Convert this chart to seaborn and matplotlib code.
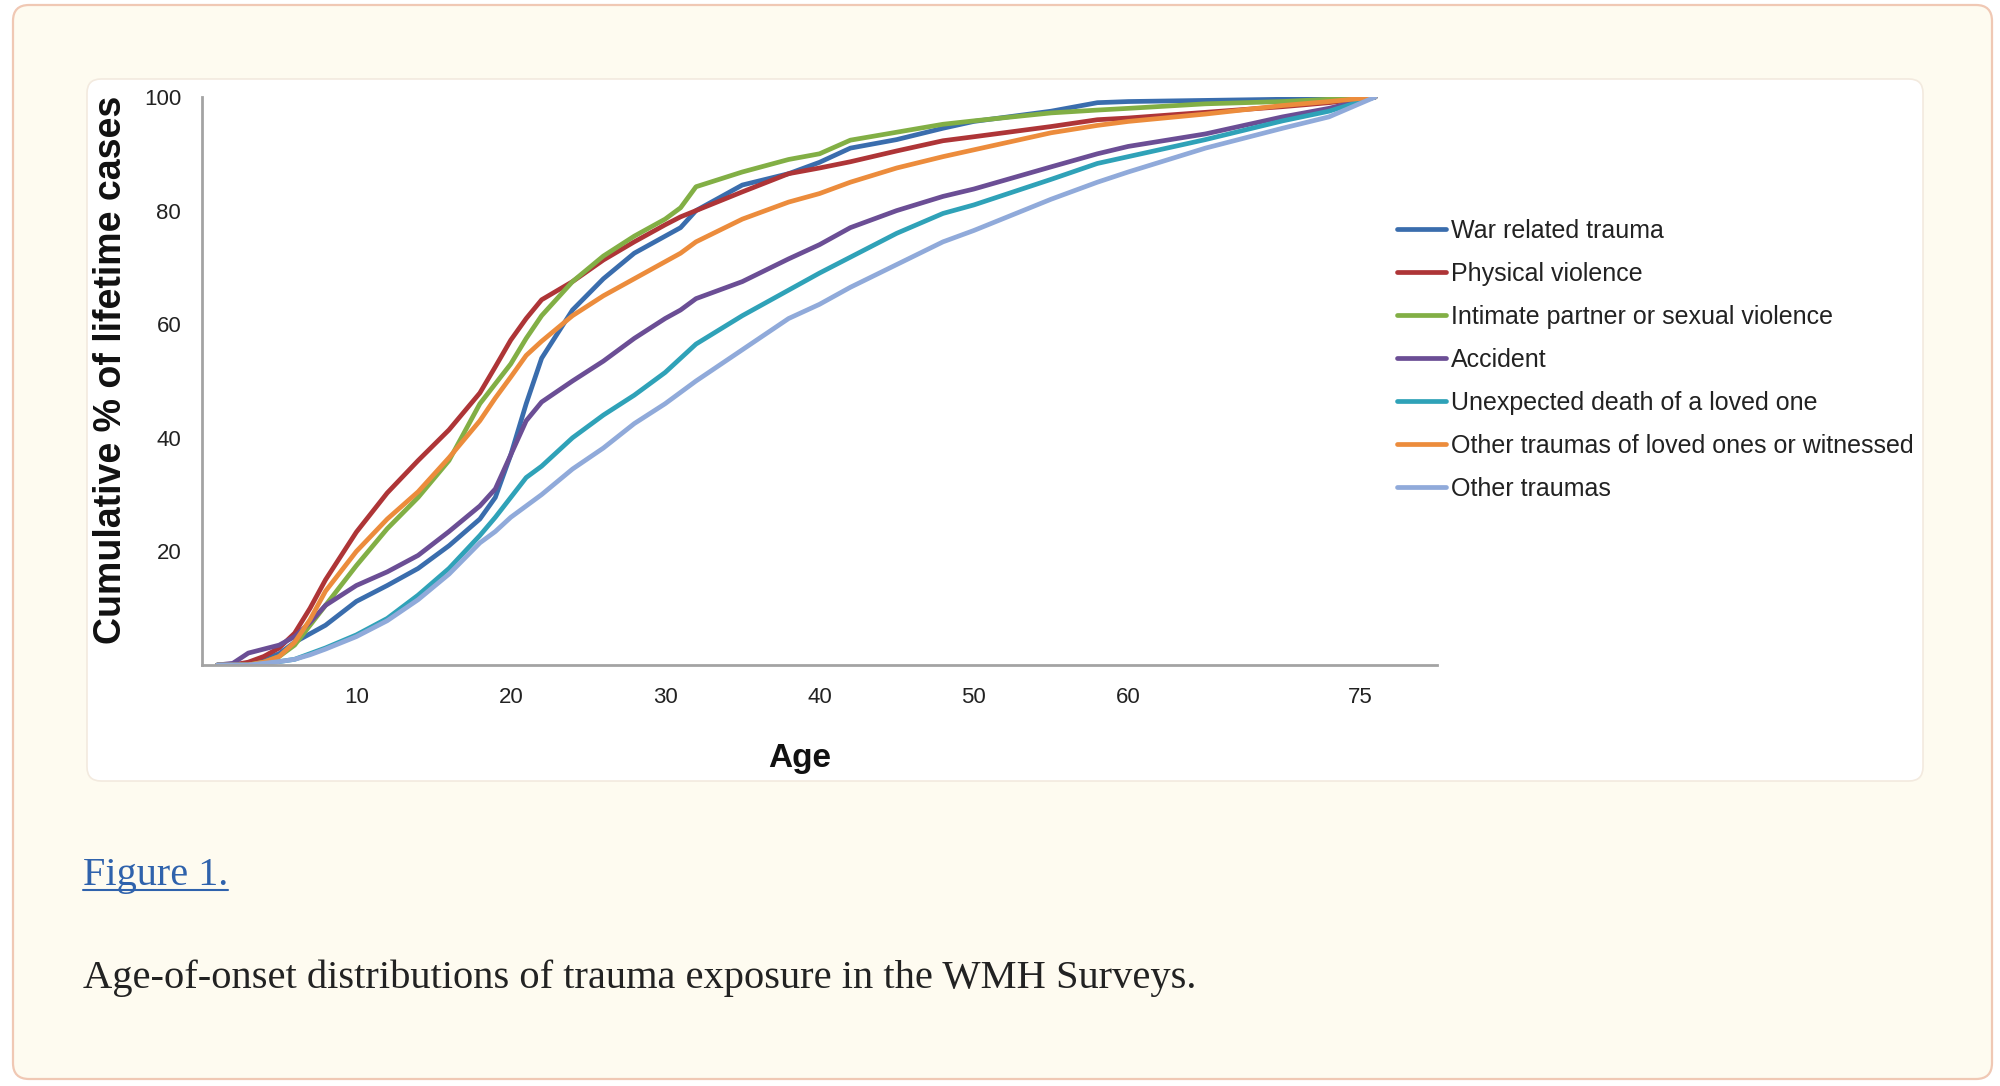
import matplotlib
matplotlib.use('Agg')
import matplotlib.pyplot as plt
import seaborn as sns
import pandas as pd
from matplotlib.patches import FancyBboxPatch
from matplotlib.transforms import IdentityTransform
from matplotlib.lines import Line2D

# ---------------- data ----------------
ages = [1, 2, 3, 4, 5, 6, 7, 8, 10, 12, 14, 16, 18, 19, 20, 21, 22, 24, 26, 28,
        30, 31, 32, 35, 38, 40, 42, 45, 48, 50, 55, 58, 60, 65, 70, 73, 76]

war_related = [0, 0, 0.3, 1, 2, 4, 5.5, 7, 11.2, 14, 17, 21, 25.7, 29.5, 37, 46, 54, 62.5, 68, 72.5,
               75.5, 77, 80, 84.5, 86.5, 88.5, 91, 92.5, 94.5, 95.7, 97.5, 99, 99.2, 99.4, 99.6, 99.8, 100]
physical_violence = [0, 0, 0.5, 1.5, 3, 5.6, 10, 15, 23.4, 30.3, 36, 41.4, 47.9, 52.5, 57.2, 61, 64.3, 67.5, 71.3, 74.5,
                     77.5, 78.9, 80, 83.3, 86.5, 87.5, 88.6, 90.5, 92.3, 93, 94.8, 96, 96.3, 97.3, 98.3, 99, 100]
intimate_partner = [0, 0, 0, 0.5, 1.5, 3.5, 7, 10.5, 17.5, 24, 29.5, 36, 46, 49.5, 53, 57.5, 61.5, 67.5, 72, 75.5,
                    78.5, 80.5, 84.2, 86.8, 89, 90, 92.4, 93.8, 95.2, 95.8, 97.2, 97.7, 98, 98.8, 99.2, 99.6, 100]
accident = [0, 0.3, 2.1, 2.8, 3.5, 5, 7.5, 10.5, 14, 16.4, 19.3, 23.5, 28, 31, 37, 43, 46.3, 50, 53.5, 57.5,
            61, 62.5, 64.5, 67.5, 71.5, 74, 77, 80, 82.5, 83.8, 87.7, 90, 91.3, 93.5, 96.5, 98, 100]
unexpected_death = [0, 0, 0, 0.3, 0.6, 1, 2, 3, 5.3, 8.2, 12.3, 17, 22.8, 26, 29.5, 33, 35, 40, 44, 47.5,
                    51.5, 54, 56.5, 61.5, 66, 69, 71.8, 76, 79.5, 81, 85.5, 88.3, 89.5, 92.5, 95.8, 97.5, 100]
loved_ones_witnessed = [0, 0, 0, 0.5, 1.5, 4, 8, 13, 20, 25.7, 30.5, 36.5, 43, 47, 50.7, 54.5, 57, 61.5, 65, 68,
                        71, 72.5, 74.5, 78.5, 81.5, 83, 85, 87.5, 89.5, 90.7, 93.7, 95, 95.7, 97, 98.5, 99.2, 100]
other_traumas = [0, 0, 0, 0.3, 0.6, 1, 1.8, 2.8, 5, 7.8, 11.5, 16, 21.5, 23.5, 26, 28, 30, 34.5, 38.2, 42.5,
                 46, 48, 50, 55.5, 61, 63.5, 66.5, 70.5, 74.5, 76.5, 82, 85, 86.8, 91, 94.5, 96.5, 100]

series_names = ["War related trauma", "Physical violence", "Intimate partner or sexual violence",
                "Accident", "Unexpected death of a loved one",
                "Other traumas of loved ones or witnessed", "Other traumas"]
series_values = [war_related, physical_violence, intimate_partner, accident,
                 unexpected_death, loved_ones_witnessed, other_traumas]
colors = ["#3A6DAD", "#AE3537", "#82AF45", "#6B4E95", "#2FA2B8", "#EC8C3C", "#90AADA"]

x_ticks = [10, 20, 30, 40, 50, 60, 75]
y_ticks = [20, 40, 60, 80, 100]

df = pd.DataFrame({
    "Age": [a for _ in series_names for a in ages],
    "Value": [v for vals in series_values for v in vals],
    "Series": [n for n in series_names for _ in ages],
})

# ---------------- figure ----------------
sns.set_theme(style="white")
plt.rcParams['font.family'] = ['Liberation Sans', 'DejaVu Sans']

W, H = 2000, 1086
fig = plt.figure(figsize=(W / 100, H / 100), dpi=100)
fig.patch.set_facecolor('white')

outer = FancyBboxPatch((13, H - 1079), 1979, 1074, boxstyle="round,pad=0,rounding_size=16",
                       fc="#FEFBF0", ec="#F0C8B4", lw=1.6, transform=IdentityTransform(), zorder=0)
fig.add_artist(outer)
panel = FancyBboxPatch((87, H - 781), 1836, 702, boxstyle="round,pad=0,rounding_size=14",
                       fc="white", ec="#F3EADF", lw=1.2, transform=IdentityTransform(), zorder=0.5)
fig.add_artist(panel)

ax = fig.add_axes([202 / W, (H - 665) / H, (1437 - 202) / W, (665 - 97) / H])
ax.set_facecolor('none')
ax.set_zorder(2)

sns.lineplot(data=df, x="Age", y="Value", hue="Series", hue_order=series_names,
             palette=dict(zip(series_names, colors)), linewidth=3.4, errorbar=None,
             ax=ax, legend=True)

ax.set_xlim(0, 80)
ax.set_ylim(0, 100)
ax.set_xticks(x_ticks)
ax.set_yticks(y_ticks)
ax.tick_params(axis='both', length=0, labelsize=16, labelcolor='#222222')
ax.tick_params(axis='y', pad=15)
ax.tick_params(axis='x', pad=16)
for s in ['top', 'right']:
    ax.spines[s].set_visible(False)
for s in ['left', 'bottom']:
    ax.spines[s].set_color('#A3A3A3')
    ax.spines[s].set_linewidth(2)

ax.set_ylabel("Cumulative % of lifetime cases", fontsize=27, fontweight='bold', color='#111111')
ax.yaxis.set_label_coords((111 - 202) / 1235, (665 - 370) / 568)
ax.yaxis.label.set_va('center')
ax.set_xlabel("Age", fontsize=24, fontweight='bold', color='#111111')
ax.xaxis.set_label_coords((800 - 202) / 1235, (665 - 759) / 568)
ax.xaxis.label.set_va('center')

handles, labels = ax.get_legend_handles_labels()
for h in handles:
    h.set_linewidth(3.4)
leg = ax.legend(handles, labels, loc='upper left', bbox_to_anchor=(1397 / W, 1 - 219 / H),
                bbox_transform=fig.transFigure, frameon=False, fontsize=18,
                handlelength=1.95, handletextpad=0.2, labelspacing=0.76,
                borderpad=0, borderaxespad=0)
for t in leg.get_texts():
    t.set_color('#222222')

# ---------------- caption ----------------
fig_link = fig.text(83 / W, 1 - 876 / H, "Figure 1.", fontsize=29, family=['Liberation Serif', 'DejaVu Serif'],
                    color='#2F62AC', ha='left', va='center', zorder=3)
fig.text(83 / W, 1 - 978 / H, "Age-of-onset distributions of trauma exposure in the WMH Surveys.",
         fontsize=29.2, family=['Liberation Serif', 'DejaVu Serif'], color='#222222', ha='left', va='center', zorder=3)

fig.canvas.draw()
bb = fig_link.get_window_extent()
fig.add_artist(Line2D([bb.x0, bb.x1], [H - 890, H - 890], color='#2F62AC', lw=1.5,
                      transform=IdentityTransform(), zorder=3))

fig.savefig('out.png', dpi=100, facecolor=fig.get_facecolor())
